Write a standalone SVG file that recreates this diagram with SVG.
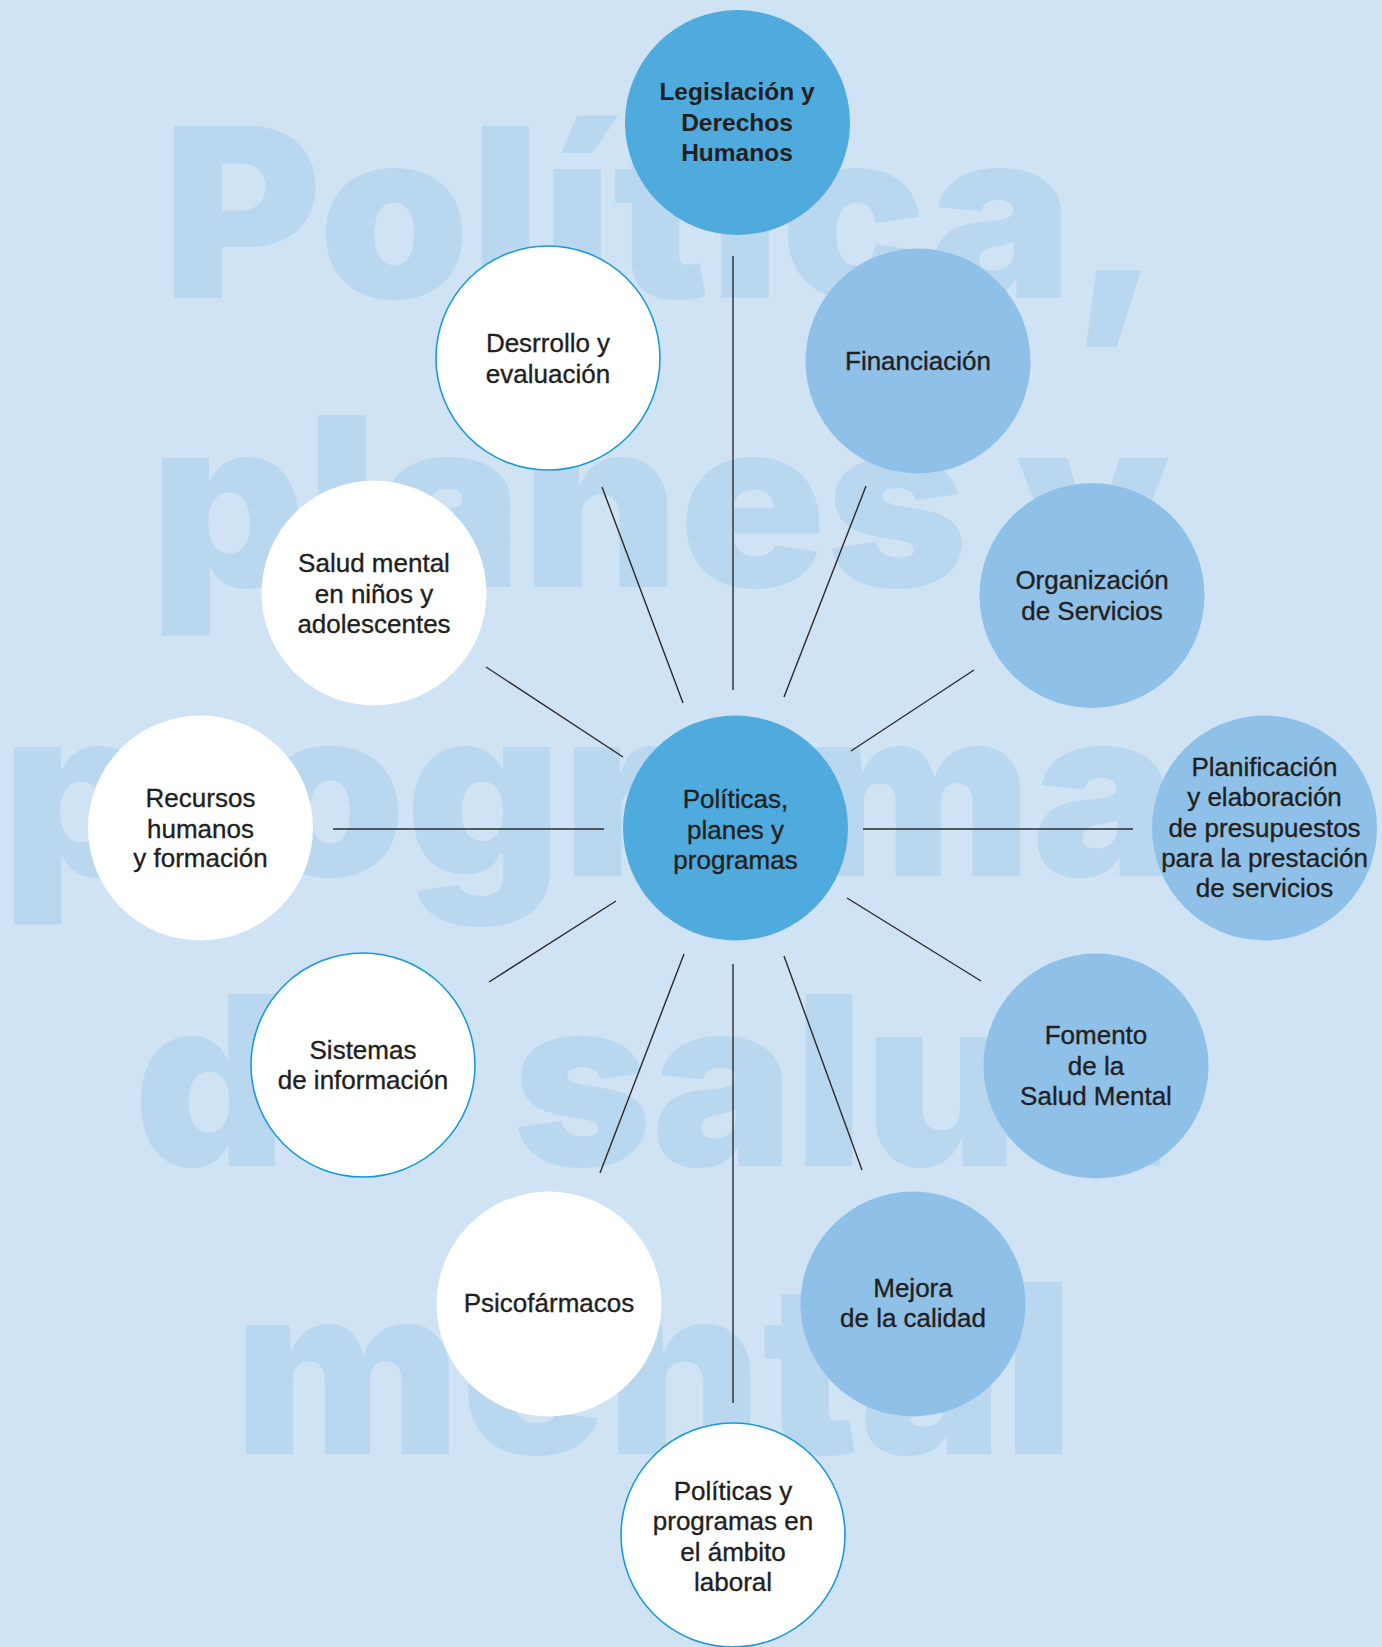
<svg xmlns="http://www.w3.org/2000/svg" width="1382" height="1647" viewBox="0 0 1382 1647">
<style>
.bg{fill:#b9d7ef;font-family:Inter,"Liberation Sans",sans-serif;font-weight:900;font-size:236px}
.c1{fill:#4faade}
.c2{fill:#8ec0e8}
.cw{fill:#ffffff}
.cwb{fill:#ffffff;stroke:#1a9ad6;stroke-width:1.6}
.t{font-family:"Liberation Sans",Arial,sans-serif;font-size:26px;fill:#231f20;stroke:#231f20;stroke-width:0.35;text-anchor:middle}
.tb{font-weight:bold;font-size:24.5px;stroke:none}
.ln{stroke:#2b2b2b;stroke-width:1.4;fill:none}
</style>
<rect width="1382" height="1647" fill="#cfe3f5"/>
<g id="background-title">
<text class="bg" x="163" y="298" textLength="1000" lengthAdjust="spacingAndGlyphs">Política,</text>
<text class="bg" x="150" y="587" textLength="1020" lengthAdjust="spacingAndGlyphs">planes y</text>
<text class="bg" x="2" y="876" textLength="1174" lengthAdjust="spacingAndGlyphs">programa</text>
<text class="bg" y="1166"><tspan x="134">de</tspan><tspan x="512" textLength="660" lengthAdjust="spacingAndGlyphs">salud</tspan></text>
<text class="bg" x="234" y="1454" textLength="840" lengthAdjust="spacingAndGlyphs">mental</text>
</g>
<g id="connectors">
<line class="ln" x1="733" y1="256" x2="733" y2="690"/>
<line class="ln" x1="733" y1="964" x2="733" y2="1403"/>
<line class="ln" x1="333" y1="829" x2="604" y2="829"/>
<line class="ln" x1="863" y1="829" x2="1133" y2="829"/>
<line class="ln" x1="602" y1="487" x2="683" y2="703"/>
<line class="ln" x1="866" y1="486" x2="784" y2="697"/>
<line class="ln" x1="486" y1="667" x2="623" y2="757"/>
<line class="ln" x1="974" y1="670" x2="851" y2="751"/>
<line class="ln" x1="616" y1="901" x2="489" y2="982"/>
<line class="ln" x1="847" y1="898" x2="981" y2="981"/>
<line class="ln" x1="684" y1="954" x2="600" y2="1173"/>
<line class="ln" x1="784" y1="956" x2="862" y2="1170"/>
</g>
<g id="node-legislacion">
<circle class="c1" cx="737.5" cy="122.5" r="112.5"/>
<text class="t tb" x="737" y="100">Legislación y</text>
<text class="t tb" x="737" y="131">Derechos</text>
<text class="t tb" x="737" y="161">Humanos</text>
</g>
<g id="node-desarrollo">
<circle class="cwb" cx="548" cy="358" r="112"/>
<text class="t" x="548" y="352">Desrrollo y</text>
<text class="t" x="548" y="383">evaluación</text>
</g>
<g id="node-financiacion">
<circle class="c2" cx="918" cy="361" r="112.5"/>
<text class="t" x="918" y="370">Financiación</text>
</g>
<g id="node-salud-ninos">
<circle class="cw" cx="374" cy="593" r="112.5"/>
<text class="t" x="374" y="572">Salud mental</text>
<text class="t" x="374" y="603">en niños y</text>
<text class="t" x="374" y="633">adolescentes</text>
</g>
<g id="node-organizacion">
<circle class="c2" cx="1092" cy="595.5" r="112.5"/>
<text class="t" x="1092" y="589">Organización</text>
<text class="t" x="1092" y="620">de Servicios</text>
</g>
<g id="node-recursos">
<circle class="cw" cx="200.5" cy="828" r="112.5"/>
<text class="t" x="200.5" y="807">Recursos</text>
<text class="t" x="200.5" y="838">humanos</text>
<text class="t" x="200.5" y="867">y formación</text>
</g>
<g id="node-centro">
<circle class="c1" cx="735.5" cy="828" r="112.5"/>
<text class="t" x="735.5" y="808">Políticas,</text>
<text class="t" x="735.5" y="839">planes y</text>
<text class="t" x="735.5" y="869">programas</text>
</g>
<g id="node-planificacion">
<circle class="c2" cx="1264.5" cy="828" r="112.5"/>
<text class="t" x="1264.5" y="776">Planificación</text>
<text class="t" x="1264.5" y="806">y elaboración</text>
<text class="t" x="1264.5" y="837">de presupuestos</text>
<text class="t" x="1264.5" y="867">para la prestación</text>
<text class="t" x="1264.5" y="897">de servicios</text>
</g>
<g id="node-sistemas">
<circle class="cwb" cx="363" cy="1065" r="112"/>
<text class="t" x="363" y="1059">Sistemas</text>
<text class="t" x="363" y="1089">de información</text>
</g>
<g id="node-fomento">
<circle class="c2" cx="1096" cy="1066" r="112.5"/>
<text class="t" x="1096" y="1044">Fomento</text>
<text class="t" x="1096" y="1075">de la</text>
<text class="t" x="1096" y="1105">Salud Mental</text>
</g>
<g id="node-psicofarmacos">
<circle class="cw" cx="549" cy="1304" r="112.5"/>
<text class="t" x="549" y="1312">Psicofármacos</text>
</g>
<g id="node-mejora">
<circle class="c2" cx="913" cy="1304" r="112.5"/>
<text class="t" x="913" y="1297">Mejora</text>
<text class="t" x="913" y="1327">de la calidad</text>
</g>
<g id="node-laboral">
<circle class="cwb" cx="733" cy="1535" r="112"/>
<text class="t" x="733" y="1500">Políticas y</text>
<text class="t" x="733" y="1530">programas en</text>
<text class="t" x="733" y="1561">el ámbito</text>
<text class="t" x="733" y="1591">laboral</text>
</g>
</svg>
